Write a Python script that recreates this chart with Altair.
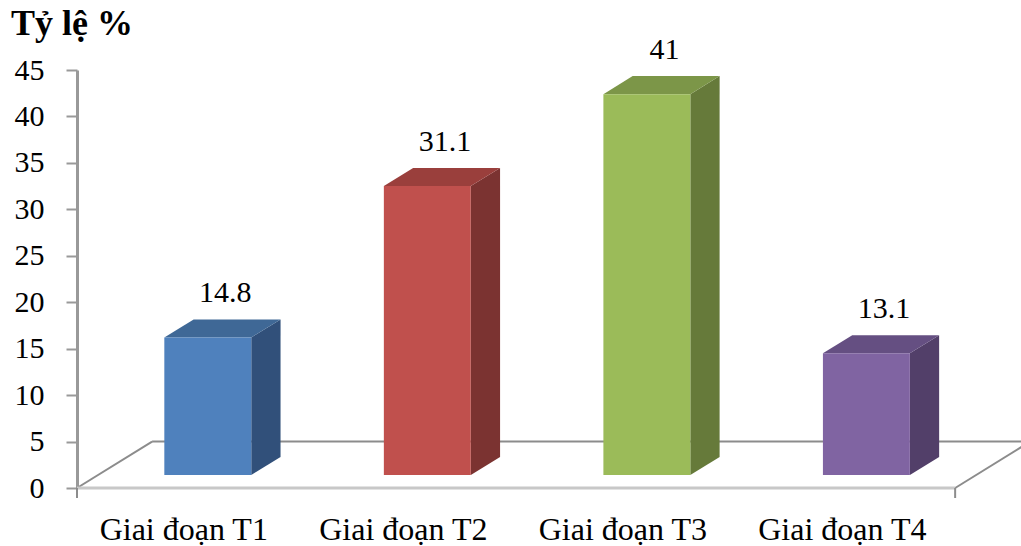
import altair as alt
import pandas as pd

# Share of cases by period (%)
categories = ["Giai đoạn T1", "Giai đoạn T2", "Giai đoạn T3", "Giai đoạn T4"]
values = [14.8, 31.1, 41, 13.1]
front_colors = ["#4F81BD", "#C0504D", "#9BBB59", "#8064A2"]
top_colors = ["#3F6896", "#9A3F3C", "#7C9648", "#654F82"]
side_colors = ["#31507A", "#7B3331", "#667A3A", "#523F69"]
y_ticks = [0, 5, 10, 15, 20, 25, 30, 35, 40, 45]
y_title = "Tỷ lệ %"

FONT = "Liberation Serif"

# 3-D box geometry, expressed in axis units
FLOOR_DX = 0.342  # horizontal shift of the back floor edge (category units)
FLOOR_DY = 5.0    # vertical shift of the back floor edge (value units)
FRONT = 0.28      # depth of the bar front faces inside the floor
DEPTH = 0.39      # bar depth as a fraction of the floor depth
BAR_W = 0.396     # bar width (category units)
X_MAX = 4.3

dx = DEPTH * FLOOR_DX
dy = DEPTH * FLOOR_DY
base = FRONT * FLOOR_DY

front_rows, side_rows, top_rows, label_rows, cat_rows = [], [], [], [], []
for i, (cat, v) in enumerate(zip(categories, values)):
    cx = i + 0.5 + FRONT * FLOOR_DX
    x0, x1 = cx - BAR_W / 2, cx + BAR_W / 2
    top = base + v
    front_rows.append(dict(bar=i, x0=x0, x1=x1, lo=base, hi=top, fill=front_colors[i]))
    side_rows += [
        dict(bar=i, x=x1, lo=base, hi=top, fill=side_colors[i]),
        dict(bar=i, x=x1 + dx, lo=base + dy, hi=top + dy, fill=side_colors[i]),
    ]
    top_rows += [
        dict(bar=i, x=x0, lo=top, hi=top, fill=top_colors[i]),
        dict(bar=i, x=x0 + dx, lo=top, hi=top + dy, fill=top_colors[i]),
        dict(bar=i, x=x1, lo=top, hi=top + dy, fill=top_colors[i]),
        dict(bar=i, x=x1 + dx, lo=top + dy, hi=top + dy, fill=top_colors[i]),
    ]
    label_rows.append(dict(x=cx + 0.6 * dx, y=top + dy, text=f"{v:g}"))
    cat_rows.append(dict(x=i + 0.5, text=cat))

front_df = pd.DataFrame(front_rows)
side_df = pd.DataFrame(side_rows)
top_df = pd.DataFrame(top_rows)
label_df = pd.DataFrame(label_rows)
cat_df = pd.DataFrame(cat_rows)

n = len(categories)
floor_back = pd.DataFrame([
    dict(seg=0, x=FLOOR_DX, y=FLOOR_DY), dict(seg=0, x=n + FLOOR_DX, y=FLOOR_DY),
    dict(seg=1, x=0, y=0), dict(seg=1, x=FLOOR_DX, y=FLOOR_DY),
    dict(seg=2, x=n, y=0), dict(seg=2, x=n + FLOOR_DX, y=FLOOR_DY),
])
floor_front = pd.DataFrame([dict(seg=0, x=0, y=0), dict(seg=0, x=n, y=0)])
end_ticks = pd.DataFrame({"x": [0, n]})

xs = alt.Scale(domain=[0, X_MAX], nice=False, zero=False)
ys = alt.Scale(domain=[0, 45], nice=False)

y_axis = alt.Axis(
    values=y_ticks, title=None, grid=False,
    domainColor="#999999", domainWidth=3,
    tickColor="#999999", tickWidth=2, tickSize=11,
    labelFont=FONT, labelFontSize=30, labelColor="#000000",
    labelPadding=22, labelBaseline="middle",
)


def X(field):
    return alt.X(field, scale=xs, axis=None)


def Y(field):
    return alt.Y(field, scale=ys, axis=y_axis, stack=None)


floor_back_layer = alt.Chart(floor_back).mark_line(color="#8c8c8c", strokeWidth=2).encode(
    x=X("x:Q"), y=Y("y:Q"), detail="seg:N",
)

floor_front_layer = alt.Chart(floor_front).mark_line(color="#c8c8c8", strokeWidth=3).encode(
    x=X("x:Q"), y=Y("y:Q"), detail="seg:N",
)

tick_layer = alt.Chart(end_ticks).mark_rule(color="#8c8c8c", strokeWidth=2).encode(
    x=X("x:Q"), y=alt.value(418), y2=alt.value(428),
)

side_layer = alt.Chart(side_df).mark_area(interpolate="linear").encode(
    x=X("x:Q"), y=Y("lo:Q"), y2="hi:Q",
    color=alt.Color("fill:N", scale=None), detail="bar:N",
)

top_layer = alt.Chart(top_df).mark_area(interpolate="linear").encode(
    x=X("x:Q"), y=Y("lo:Q"), y2="hi:Q",
    color=alt.Color("fill:N", scale=None), detail="bar:N",
)

front_layer = alt.Chart(front_df).mark_rect().encode(
    x=X("x0:Q"), x2="x1:Q", y=Y("lo:Q"), y2="hi:Q",
    color=alt.Color("fill:N", scale=None),
)

value_labels = alt.Chart(label_df).mark_text(
    font=FONT, fontSize=30, color="#000000", baseline="alphabetic", align="center", dy=-17
).encode(
    x=X("x:Q"), y=Y("y:Q"), text="text:N",
)

cat_labels = alt.Chart(cat_df).mark_text(
    font=FONT, fontSize=32, color="#000000", baseline="alphabetic", align="center", dx=-3
).encode(
    x=X("x:Q"), y=alt.value(470), text="text:N",
)

title_layer = alt.Chart(pd.DataFrame({"t": [y_title]})).mark_text(
    font=FONT, fontSize=36, fontWeight="bold", color="#000000",
    align="left", baseline="alphabetic",
).encode(
    x=alt.value(-66), y=alt.value(-35), text="t:N",
)

chart = alt.layer(
    floor_back_layer, floor_front_layer, tick_layer,
    side_layer, top_layer, front_layer, value_labels, cat_labels, title_layer,
).properties(
    width=944, height=418,
    autosize=alt.AutoSizeParams(type="none"),
    padding={"left": 77, "top": 70, "right": 0, "bottom": 58},
    background="#ffffff",
).configure_view(strokeWidth=0)

chart.save("out.html", embed_options={"renderer": "svg", "actions": False})
